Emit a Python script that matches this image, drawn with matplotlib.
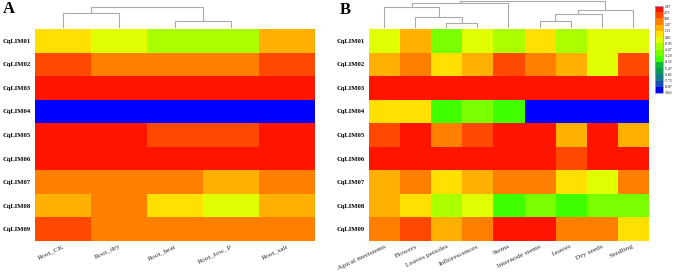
import numpy as np
import matplotlib
matplotlib.use('Agg')
import matplotlib.pyplot as plt
from matplotlib.colors import ListedColormap, BoundaryNorm

plt.rcParams['font.family'] = ['Liberation Serif', 'DejaVu Serif']

genes = ['CqLIM01', 'CqLIM02', 'CqLIM03', 'CqLIM04', 'CqLIM05',
         'CqLIM06', 'CqLIM07', 'CqLIM08', 'CqLIM09']

stress = ['Root_CK', 'Root_dry', 'Root_heat', 'Root_low_P', 'Root_salt']
stress_values = [
    [0.8, -0.3, -1.4, -1.6, 1.9],
    [4.1, 3.0, 2.9, 3.1, 4.2],
    [5.6, 5.5, 5.4, 5.5, 5.6],
    [-9.9, -9.9, -9.9, -9.9, -9.9],
    [5.2, 5.0, 4.3, 4.1, 5.3],
    [5.5, 5.4, 5.2, 5.1, 5.3],
    [3.0, 2.9, 2.8, 1.9, 3.1],
    [1.8, 2.8, 0.9, -0.2, 1.9],
    [4.0, 3.1, 3.0, 2.9, 3.0],
]

tissues = ['Apical meristems', 'Flowers', 'Leaves petioles', 'Inflorescences',
           'Stems', 'Internode stems', 'Leaves', 'Dry seeds', 'Seedling']
tissue_values = [
    [-0.3, 1.9, -2.5, -0.2, -1.5, 0.8, -1.6, -0.4, -0.3],
    [1.9, 3.0, 0.8, 1.8, 4.1, 3.0, 1.9, -0.3, 4.2],
    [5.6, 5.6, 5.6, 5.6, 5.6, 5.6, 5.6, 5.6, 5.6],
    [0.9, 0.8, -3.6, -2.6, -3.5, -9.9, -9.9, -9.9, -9.9],
    [4.1, 5.3, 3.0, 4.2, 5.4, 5.5, 1.9, 5.3, 1.8],
    [5.4, 5.5, 5.3, 5.4, 5.5, 5.5, 4.2, 5.4, 5.3],
    [1.9, 3.0, 0.7, 1.8, 3.1, 3.0, 0.8, -0.2, 3.0],
    [1.8, 0.8, -1.4, -0.3, -3.8, -2.6, -3.9, -2.6, -2.7],
    [3.0, 4.1, 1.9, 3.0, 5.4, 5.5, 3.1, 3.0, 0.8],
]

# dendrogram merges: (left node, right node, height); nodes >= n leaves are earlier merges
stress_links = [(0, 1, 15), (2, 3, 7), (5, 6, 22)]
tissue_links = [(2, 3, 4), (1, 9, 11), (0, 10, 22), (11, 4, 25.5),
                (5, 6, 7), (13, 7, 14), (14, 8, 18), (12, 15, 27.5)]

cbar_labels = ['5.87', '4.73', '3.60', '2.47', '1.33', '0.20', '-0.93', '-2.07',
               '-3.20', '-4.33', '-5.47', '-6.60', '-7.73', '-8.87', '-10.0']

colors = ['#0000ff', '#1850b8', '#147a8a', '#0a9a50', '#10b83a', '#40ff00',
          '#7aff00', '#aaff00', '#e0ff00', '#ffe000', '#ffb000', '#ff7f00',
          '#ff4800', '#ff1400']
bounds = [float(s) for s in cbar_labels][::-1]
cmap = ListedColormap(colors)
norm = BoundaryNorm(bounds, cmap.N)

W, H = 676, 274
fig = plt.figure(figsize=(W / 100, H / 100), dpi=100)


def px_axes(x0, y0, x1, y1):
    return fig.add_axes([x0 / W, 1 - y1 / H, (x1 - x0) / W, (y1 - y0) / H])


def heat(ax, vals, cols, fs):
    ax.imshow(np.array(vals), cmap=cmap, norm=norm, aspect='auto', interpolation='nearest')
    ax.set_xticks(range(len(cols)))
    ax.set_xticklabels(cols, rotation=25, ha='right', va='top', fontsize=fs,
                       color='#333333', rotation_mode='anchor')
    ax.set_yticks(range(len(genes)))
    ax.set_yticklabels(genes, fontsize=4.8, fontweight='bold')
    ax.tick_params(length=0, pad=3)
    ax.tick_params(axis='x', pad=2)
    for s in ax.spines.values():
        s.set_visible(False)


def dendro(ax, n, links, top):
    pos = {i: i for i in range(n)}
    hgt = {i: 0 for i in range(n)}
    for k, (a, b, h) in enumerate(links):
        xa, xb = pos[a], pos[b]
        ax.plot([xa, xa, xb, xb], [hgt[a], h, h, hgt[b]], color='#aaaaaa', lw=0.8)
        pos[n + k] = (xa + xb) / 2
        hgt[n + k] = h
    ax.set_xlim(-0.5, n - 0.5)
    ax.set_ylim(-2, top)
    ax.axis('off')


axA = px_axes(35, 29, 315, 241)
heat(axA, stress_values, stress, 5.4)
dA = px_axes(35, 0, 315, 29)
dendro(dA, len(stress), stress_links, 29)

axB = px_axes(369, 29, 648, 241)
heat(axB, tissue_values, tissues, 5.4)
dB = px_axes(369, 0, 648, 29)
dendro(dB, len(tissues), tissue_links, 29)

cax = px_axes(655, 6, 663, 93)
cb = fig.colorbar(plt.cm.ScalarMappable(norm=norm, cmap=cmap), cax=cax,
                  ticks=bounds, spacing='uniform')
cb.ax.set_yticklabels(cbar_labels[::-1], fontsize=2.6)
cb.ax.tick_params(length=0, pad=1)
cb.outline.set_edgecolor('#9999dd')
cb.outline.set_linewidth(0.6)

fig.text(3 / W, 1 - 13 / H, 'A', fontsize=12, fontweight='bold')
fig.text(340 / W, 1 - 14 / H, 'B', fontsize=12, fontweight='bold')

fig.savefig('out.png', dpi=100)
